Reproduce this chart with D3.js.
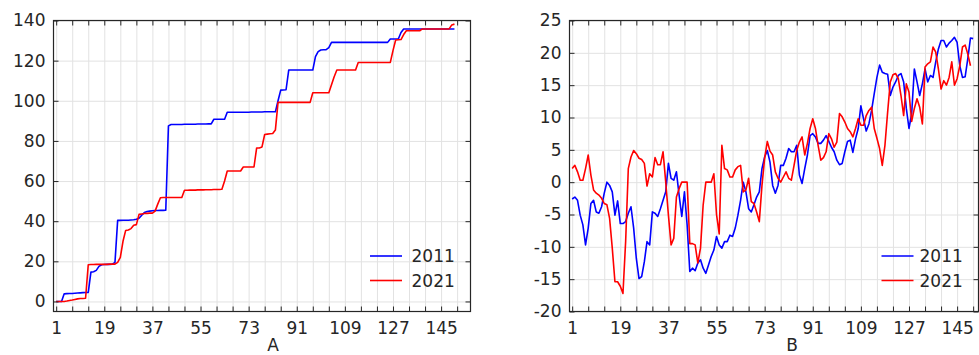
<!DOCTYPE html>
<html lang="en">
<head>
<meta charset="UTF-8" />
<title>2011 vs 2021</title>
<script src="https://d3js.org/d3.v7.min.js"></script>
<style>
  body { margin: 0; background: #fff; }
  svg { display: block; font-family: "DejaVu Sans", "Liberation Sans", Arial, sans-serif; }
  .grid line { stroke: #e2e2e2; stroke-width: 1; }
  .grid path { display: none; }
  .ax path { display: none; }
  .ax line { stroke: #262626; stroke-width: 1; }
  .ax text { fill: #262626; font-size: 17px; font-family: "DejaVu Sans", "Liberation Sans", Arial, sans-serif; }
</style>
</head>
<body>
<svg id="chart" width="979" height="355"></svg>
<script>
const years = ["2011", "2021"];
const colors = ["#0000ff", "#ff0000"];
const xLabels = [1, 19, 37, 55, 73, 91, 109, 127, 145];
const yTicksA = [0, 20, 40, 60, 80, 100, 120, 140];
const yTicksB = [-20, -15, -10, -5, 0, 5, 10, 15, 20, 25];

// panel A : cumulative values
const a2011 = [0,0,0,3.8,3.9,4,4,4.1,4.2,4.3,4.4,4.5,4.5,
  14.6,14.8,15.5,17.5,18.3,18.4,18.5,18.5,18.6,
  19.5,
  40.4,40.4,40.5,40.5,40.5,40.6,40.7,41,41.5,43,44.3,44.8,45,45.2,45.3,45.3,45.4,45.4,45.5,
  87.5,
  88.2,88.2,88.2,88.2,88.2,88.3,88.3,88.3,88.3,88.3,88.4,88.4,88.4,88.4,88.5,88.5,
  90.8,90.8,90.8,90.8,90.8,
  94.3,94.3,94.3,94.3,94.3,94.3,94.3,94.3,94.3,94.4,94.4,94.4,94.4,94.4,94.5,94.5,94.5,94.5,94.5,
  100,105.3,105.4,105.5,
  115.3,115.3,115.3,115.3,115.3,115.3,115.3,115.3,115.3,115.3,
  122,124.5,125.3,125.4,125.5,126.5,
  129.1,129.1,129.1,129.1,129.1,129.1,129.1,129.1,129.1,129.1,129.1,129.1,129.1,129.1,129.1,129.1,129.1,129.1,129.1,129.1,129.1,129.1,
  130.8,130.8,130.8,130.8,
  134,
  135.8,135.8,135.8,135.8,135.8,135.8,135.8,135.8,135.8,135.8,135.8,135.8,135.8,135.8,135.8,135.8,135.8,135.8,135.8,135.8];

const a2021 = [0,0,0,0,0.2,
  0.5,0.7,1,1.3,1.5,1.5,1.6,
  18.3,18.4,18.4,18.5,18.5,18.5,18.5,18.5,18.6,18.6,18.6,
  19.5,22,30,35.4,35.6,36.3,38,38.3,
  43.4,43.6,43.8,43.9,44,44,
  45,48.5,51.7,
  51.8,51.8,51.8,51.8,51.8,51.8,51.8,51.8,
  55.4,55.4,55.5,55.5,55.5,55.6,55.6,55.6,55.7,55.7,55.7,55.8,55.8,55.8,55.9,
  60,
  65,65,65,65,65,65,
  67,67,67,67,67,
  76.5,76.5,77,
  83.2,83.4,83.6,83.7,
  85.4,
  99.2,99.2,99.2,99.2,99.2,99.2,99.2,99.2,99.2,99.2,99.2,99.2,99.2,
  104,104,104,104,104,104,104,
  108,112,
  115.3,115.3,115.3,115.3,115.3,115.3,115.3,115.3,
  119.1,119.1,119.1,119.1,119.1,119.1,119.1,119.1,119.1,119.1,119.1,119.1,119.1,
  125,
  130.3,130.4,130.5,
  133,
  134.9,134.9,134.9,134.9,134.9,134.9,
  135.8,135.8,135.8,135.8,135.8,135.8,135.8,135.8,135.8,135.8,135.8,
  137.8,138.2];

// panel B : yearly deviations
const b2011 = [-2.6,-2.3,-2.8,-5.1,-6.6,-9.7,-7.1,-3.3,-2.8,-4.6,
  -4.8,-3.8,-1.7,0,-0.5,-1.5,-5.1,-2.9,-6.4,-6.4,
  -6.1,-4.8,-3.8,-7.1,-11.8,-14.9,-14.6,-12.3,-9.2,-9.7,
  -4.6,-4.8,-5.3,-4.1,-2.8,-1.5,2.9,0.6,0.3,1.6,
  -2,-5.3,-1.5,-6.6,-13.8,-13.3,-13.7,-12.5,-12,-13.3,
  -14.1,-12.8,-11.5,-10.5,-8.4,-9.7,-10.2,-9.2,-9.2,-8.2,
  -8.4,-7.1,-5.1,-2.8,0,-1.5,-4.1,-4.6,-3.5,-2.3,
  -1.5,2.1,3.9,4.9,3.1,-0.5,-1.7,-0.5,2.6,2.6,
  3.7,5.2,4.7,4.7,5.7,1.1,-0.2,2.1,4.2,7.2,
  7.5,7,6,6,6.5,7.2,6.3,5.4,4.7,3.4,
  2.7,2.9,4.7,6.3,6.5,4.6,6.7,8.3,11.8,9.8,
  7.9,9,11.1,13.7,16.2,18.1,17,16.8,16.7,13.4,
  14.7,15.5,16.5,16.8,15.5,11.4,8.3,10.6,17.5,15.5,
  13.4,15.2,17.5,15.5,16.5,16.2,18.6,20.6,21.9,21.9,
  20.9,21.5,21.9,22.4,21.6,18,16.2,16.3,19.1,22.3,22.2];

const b2021 = [2.1,2.6,1.6,0.3,0.3,2.1,4.2,1.1,-1.2,-1.7,
  -2,-2.5,-3.3,-3.5,-5.6,-10.2,-15.4,-15.4,-16.1,-17.2,
  -9.2,2.1,3.9,4.9,4.4,3.7,3.5,2.9,-0.6,1.3,
  0.8,3.8,2.7,2.7,4.7,0,-5.1,-9.7,-8.7,-2.3,
  -1,0,0,0,-9.5,-9.5,-9.7,-12.5,-10.2,-3.5,
  0,0,0,1.3,-5,-8,5.7,2.1,1.9,0.8,
  0.8,1.9,2.4,2.6,-1.5,-1.2,0.6,-3,-3.3,-4.6,
  -6.1,-0.5,3.7,6.3,4.8,4.2,1.6,0.6,0,0.8,
  1.6,0.6,0.3,2.6,4.9,6.2,7,4.2,6,8.3,
  9.8,8.3,5.7,3.4,3.8,4.7,7.5,6.7,5.4,6.2,
  10.6,10.1,9.3,8.3,7.8,7,8.3,9.8,8.8,8.8,
  10.3,11.1,11.6,8.3,6.8,5.2,2.6,5.7,10.8,15.5,
  16.6,16.8,16,13.4,10.3,15.2,13.9,9.4,11.4,12.9,
  11.6,9,17.8,18.3,18.6,20.9,20.1,17.5,14.4,15.7,
  15,16.2,18.6,15,16,18,20.9,21.2,19.8,18];

const panels = [
  { name: "A", series: [a2011, a2021], xDomain: [0, 156], yDomain: [-5, 140], yTicks: yTicksA,
    left: 53.5, right: 470.5, legendX: 370, textX: 411.5, nameX: 273 },
  { name: "B", series: [b2011, b2021], xDomain: [0, 153], yDomain: [-20, 25], yTicks: yTicksB,
    left: 569.5, right: 978.5, legendX: 881.5, textX: 919.5, nameX: 792 }
];

const plotTop = 20.5, plotBottom = 311.5;
const svg = d3.select("#chart");

panels.forEach(p => {
  const x = d3.scaleLinear().domain(p.xDomain).range([p.left, p.right]);
  const y = d3.scaleLinear().domain(p.yDomain).range([plotBottom, plotTop]);
  const xTicks = d3.range(1, p.xDomain[1], 6);
  const g = svg.append("g");

  // grid
  g.append("g").attr("class", "grid").attr("transform", `translate(0,${plotBottom})`)
    .call(d3.axisBottom(x).tickValues(xTicks).tickSize(-(plotBottom - plotTop)).tickFormat(""));
  g.append("g").attr("class", "grid").attr("transform", `translate(${p.left},0)`)
    .call(d3.axisLeft(y).tickValues(p.yTicks).tickSize(-(p.right - p.left)).tickFormat(""));

  // data lines
  const line = d3.line().x((d, i) => x(i + 1)).y(d => y(d));
  p.series.forEach((s, k) => {
    g.append("path").datum(s)
      .attr("fill", "none")
      .attr("stroke", colors[k])
      .attr("stroke-width", 1.6)
      .attr("stroke-linejoin", "round")
      .attr("d", line);
  });

  // axes with inward ticks
  g.append("g").attr("class", "ax").attr("transform", `translate(0,${plotBottom})`)
    .call(d3.axisBottom(x).tickValues(xTicks).tickSizeInner(-5).tickSizeOuter(0).tickPadding(10)
      .tickFormat(d => xLabels.includes(d) ? String(d) : ""));
  g.append("g").attr("class", "ax").attr("transform", `translate(0,${plotTop})`)
    .call(d3.axisTop(x).tickValues(xTicks).tickSizeInner(-5).tickSizeOuter(0).tickFormat(""));
  g.append("g").attr("class", "ax").attr("transform", `translate(${p.left},0)`)
    .call(d3.axisLeft(y).tickValues(p.yTicks).tickSizeInner(-5).tickSizeOuter(0).tickPadding(8)
      .tickFormat(d => String(d)));
  g.append("g").attr("class", "ax").attr("transform", `translate(${p.right},0)`)
    .call(d3.axisRight(y).tickValues(p.yTicks).tickSizeInner(-5).tickSizeOuter(0).tickFormat(""));

  g.append("rect")
    .attr("x", p.left).attr("y", plotTop)
    .attr("width", p.right - p.left).attr("height", plotBottom - plotTop)
    .attr("fill", "none").attr("stroke", "#262626").attr("stroke-width", 1.2);

  // legend
  years.forEach((yr, k) => {
    const ly = 256 + k * 24.5;
    g.append("line")
      .attr("x1", p.legendX).attr("x2", p.legendX + 32)
      .attr("y1", ly).attr("y2", ly)
      .attr("stroke", colors[k]).attr("stroke-width", 1.6);
    g.append("text")
      .attr("x", p.textX).attr("y", ly).attr("dy", "0.36em")
      .attr("font-size", 17).attr("fill", "#262626")
      .text(yr);
  });

  g.append("text")
    .attr("x", p.nameX).attr("y", 351)
    .attr("text-anchor", "middle")
    .attr("font-size", 17).attr("fill", "#262626")
    .text(p.name);
});
</script>
</body>
</html>
